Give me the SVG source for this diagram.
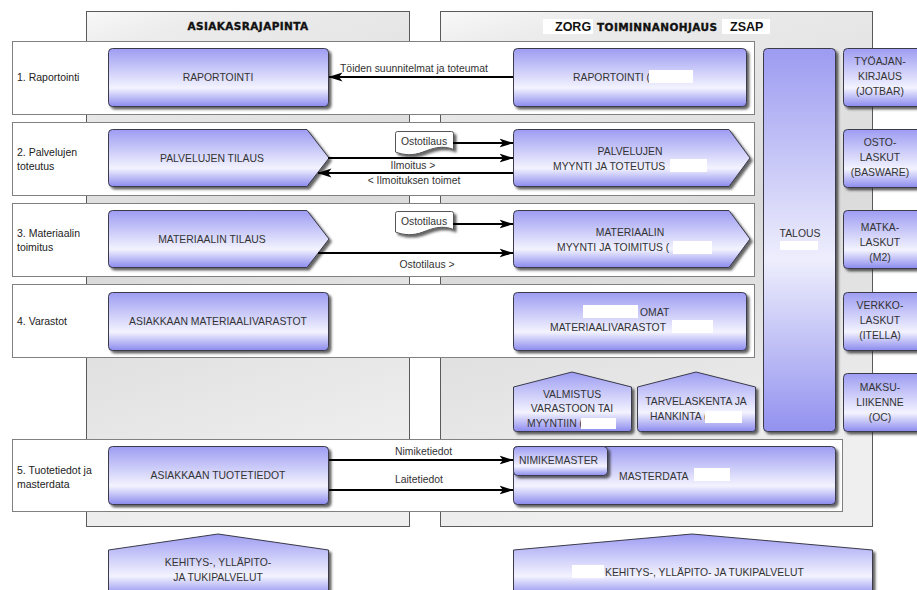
<svg xmlns="http://www.w3.org/2000/svg" width="917" height="590" viewBox="0 0 917 590">
  <defs>
    <linearGradient id="nodeFill" x1="0" y1="0" x2="0" y2="1">
      <stop offset="0" stop-color="#9d9cf2"/>
      <stop offset="0.68" stop-color="#f3f3ff"/>
      <stop offset="1" stop-color="#8b8aee"/>
    </linearGradient>
    <linearGradient id="tallFill" x1="0" y1="0" x2="0" y2="1">
      <stop offset="0" stop-color="#9c9bf1"/>
      <stop offset="0.55" stop-color="#eeeefd"/>
      <stop offset="1" stop-color="#9291ef"/>
    </linearGradient>
    <linearGradient id="colFill" x1="0" y1="0" x2="0.2" y2="1">
      <stop offset="0" stop-color="#f8f8f8"/>
      <stop offset="0.08" stop-color="#ececec"/>
      <stop offset="0.5" stop-color="#dadada"/>
      <stop offset="1" stop-color="#efefef"/>
    </linearGradient>
    <filter id="shadow" x="-5%" y="-5%" width="115%" height="125%">
      <feDropShadow dx="2.5" dy="2.5" stdDeviation="1.2" flood-color="#222" flood-opacity="0.7"/>
    </filter>
    <marker id="arrow" viewBox="0 0 14 10" refX="13.5" refY="5" markerWidth="14" markerHeight="10" markerUnits="userSpaceOnUse" orient="auto">
      <path d="M0,0.5 L14,5 L0,9.5 L3.5,5 Z" fill="#000"/>
    </marker>
  </defs>
  <style>
    .col{fill:url(#colFill);stroke:#5a5a5a;stroke-width:1}
    .band{fill:#fff;stroke:#808080;stroke-width:1}
    .node{fill:url(#nodeFill);stroke:#3a3a4a;stroke-width:1;filter:url(#shadow)}
    .tall{fill:url(#tallFill);stroke:#3a3a4a;stroke-width:1;filter:url(#shadow)}
    .doc{fill:#fff;stroke:#555;stroke-width:1;filter:url(#shadow)}
    .t{font-family:"Liberation Sans",Arial,sans-serif;font-size:10.4px;fill:#333}
    .row{font-family:"Liberation Sans",Arial,sans-serif;font-size:10.5px;fill:#222}
    .c{text-anchor:middle}
    .hdr{font-family:"DejaVu Sans",sans-serif;font-weight:bold;font-size:10.5px;letter-spacing:0.4px;fill:#111;stroke:#111;stroke-width:0.35px}
    .hdr2{font-family:"Liberation Sans",Arial,sans-serif;font-weight:bold;font-size:12.5px;fill:#111}
    .mask{fill:#fff}
    .flow{stroke:#000;stroke-width:2;fill:none}
  </style>

  <!-- column backgrounds -->
  <g id="columns">
    <rect class="col" x="86.5" y="11.5" width="323" height="515"/>
    <rect class="col" x="440.5" y="11.5" width="432" height="515"/>
    <text class="hdr c" x="248" y="30">ASIAKASRAJAPINTA</text>
    <rect class="mask" x="543" y="19" width="50" height="15"/>
    <rect class="mask" x="722" y="19" width="48" height="15"/>
    <text class="hdr2" x="555" y="31">ZORG</text>
    <text class="hdr" x="597" y="31">TOIMINNANOHJAUS</text>
    <text class="hdr2" x="730" y="31">ZSAP</text>
  </g>

  <!-- process rows -->
  <g id="rows">
    <rect class="band" x="12.5" y="41.5" width="742" height="73"/>
    <rect class="band" x="12.5" y="122.5" width="742" height="73"/>
    <rect class="band" x="12.5" y="203.5" width="742" height="73"/>
    <rect class="band" x="12.5" y="284.5" width="742" height="73"/>
    <rect class="band" x="12.5" y="439.5" width="830" height="72"/>
    <text class="row" x="17" y="81">1. Raportointi</text>
    <text class="row" x="17" y="156">2. Palvelujen</text>
    <text class="row" x="17" y="170">toteutus</text>
    <text class="row" x="17" y="237">3. Materiaalin</text>
    <text class="row" x="17" y="251">toimitus</text>
    <text class="row" x="17" y="325">4. Varastot</text>
    <text class="row" x="17" y="474">5. Tuotetiedot ja</text>
    <text class="row" x="17" y="488">masterdata</text>
  </g>

  <!-- 1. reporting -->
  <g id="raportointi-asiakas">
    <rect class="node" x="108.5" y="48.5" width="220" height="58" rx="4"/>
    <text class="t c" x="218" y="81">RAPORTOINTI</text>
  </g>
  <g id="raportointi-oma">
    <rect class="node" x="513.5" y="48.5" width="233" height="58" rx="4"/>
    <text class="t" x="573" y="81">RAPORTOINTI (</text>
    <rect class="mask" x="649" y="70" width="44" height="13"/>
  </g>

  <!-- 2. services -->
  <g id="palvelujen-tilaus">
    <path class="node" d="M112.5,129.5 H307 L329,158 L307,186.5 H112.5 Q108.5,186.5 108.5,182.5 V133.5 Q108.5,129.5 112.5,129.5 Z"/>
    <text class="t c" x="212" y="162">PALVELUJEN TILAUS</text>
  </g>
  <g id="palvelujen-myynti">
    <path class="node" d="M517.5,129.5 H729 L750,158 L729,186.5 H517.5 Q513.5,186.5 513.5,182.5 V133.5 Q513.5,129.5 517.5,129.5 Z"/>
    <text class="t c" x="630" y="155">PALVELUJEN</text>
    <text class="t" x="553" y="170">MYYNTI JA TOTEUTUS</text>
    <rect class="mask" x="670" y="159" width="37" height="13"/>
  </g>
  <g id="ostotilaus-doc-1">
    <path class="doc" d="M397.5,131.5 H451.5 Q453.5,131.5 453.5,133.5 V149.5 C443,145 433,148 423,152 C413,156 403,155 395.5,152 V133.5 Q395.5,131.5 397.5,131.5 Z"/>
    <text class="t c" x="424" y="145">Ostotilaus</text>
  </g>

  <!-- 3. materials -->
  <g id="materiaalin-tilaus">
    <path class="node" d="M112.5,210.5 H307 L329,239 L307,267.5 H112.5 Q108.5,267.5 108.5,263.5 V214.5 Q108.5,210.5 112.5,210.5 Z"/>
    <text class="t c" x="212" y="243">MATERIAALIN TILAUS</text>
  </g>
  <g id="materiaalin-myynti">
    <path class="node" d="M517.5,210.5 H729 L750,239 L729,267.5 H517.5 Q513.5,267.5 513.5,263.5 V214.5 Q513.5,210.5 517.5,210.5 Z"/>
    <text class="t c" x="630" y="236">MATERIAALIN</text>
    <text class="t" x="557" y="251">MYYNTI JA TOIMITUS (</text>
    <rect class="mask" x="673" y="241" width="39" height="13"/>
  </g>
  <g id="ostotilaus-doc-2">
    <path class="doc" d="M397.5,211.5 H451.5 Q453.5,211.5 453.5,213.5 V229.5 C443,225 433,228 423,232 C413,236 403,235 395.5,232 V213.5 Q395.5,211.5 397.5,211.5 Z"/>
    <text class="t c" x="424" y="225">Ostotilaus</text>
  </g>

  <!-- 4. stock -->
  <g id="asiakkaan-varastot">
    <rect class="node" x="108.5" y="292.5" width="220" height="58" rx="4"/>
    <text class="t c" x="218" y="325">ASIAKKAAN MATERIAALIVARASTOT</text>
  </g>
  <g id="omat-varastot">
    <rect class="node" x="513.5" y="292.5" width="233" height="58" rx="4"/>
    <rect class="mask" x="583" y="305" width="55" height="13"/>
    <text class="t" x="640" y="316">OMAT</text>
    <text class="t" x="550" y="331">MATERIAALIVARASTOT</text>
    <rect class="mask" x="672" y="320" width="41" height="13"/>
  </g>
  <g id="valmistus">
    <path class="node" d="M513.5,387 L572,372 L631.5,387 V428.5 Q631.5,431.5 628.5,431.5 H516.5 Q513.5,431.5 513.5,428.5 Z"/>
    <text class="t c" x="572" y="398">VALMISTUS</text>
    <text class="t c" x="572" y="412">VARASTOON TAI</text>
    <text class="t" x="527" y="427">MYYNTIIN (</text>
    <rect class="mask" x="581" y="418" width="35" height="11"/>
  </g>
  <g id="tarvelaskenta">
    <path class="node" d="M637.5,387 L696,372 L755.5,387 V428.5 Q755.5,431.5 752.5,431.5 H640.5 Q637.5,431.5 637.5,428.5 Z"/>
    <text class="t c" x="696" y="405">TARVELASKENTA JA</text>
    <text class="t" x="650" y="420">HANKINTA (</text>
    <rect class="mask" x="705" y="411" width="37" height="12"/>
  </g>

  <!-- finance -->
  <g id="talous">
    <rect class="tall" x="763.5" y="48.5" width="72" height="383" rx="4"/>
    <text class="t c" x="800" y="237">TALOUS</text>
    <rect class="mask" x="780" y="241" width="38" height="9"/>
  </g>
  <g id="tyoajankirjaus">
    <rect class="node" x="843.5" y="48.5" width="80" height="58" rx="4"/>
    <text class="t c" x="880" y="65">TYÖAJAN-</text>
    <text class="t c" x="880" y="80">KIRJAUS</text>
    <text class="t c" x="880" y="95">(JOTBAR)</text>
  </g>
  <g id="ostolaskut">
    <rect class="node" x="843.5" y="129.5" width="80" height="58" rx="4"/>
    <text class="t c" x="880" y="146">OSTO-</text>
    <text class="t c" x="880" y="161">LASKUT</text>
    <text class="t c" x="880" y="176">(BASWARE)</text>
  </g>
  <g id="matkalaskut">
    <rect class="node" x="843.5" y="210.5" width="80" height="58" rx="4"/>
    <text class="t c" x="880" y="231">MATKA-</text>
    <text class="t c" x="880" y="246">LASKUT</text>
    <text class="t c" x="880" y="261">(M2)</text>
  </g>
  <g id="verkkolaskut">
    <rect class="node" x="843.5" y="292.5" width="80" height="58" rx="4"/>
    <text class="t c" x="880" y="309">VERKKO-</text>
    <text class="t c" x="880" y="324">LASKUT</text>
    <text class="t c" x="880" y="339">(ITELLA)</text>
  </g>
  <g id="maksuliikenne">
    <rect class="node" x="843.5" y="373.5" width="80" height="58" rx="4"/>
    <text class="t c" x="880" y="391">MAKSU-</text>
    <text class="t c" x="880" y="406">LIIKENNE</text>
    <text class="t c" x="880" y="421">(OC)</text>
  </g>

  <!-- 5. product data -->
  <g id="asiakkaan-tuotetiedot">
    <rect class="node" x="108.5" y="446.5" width="220" height="58" rx="4"/>
    <text class="t c" x="218" y="479">ASIAKKAAN TUOTETIEDOT</text>
  </g>
  <g id="masterdata">
    <rect class="node" x="513.5" y="446.5" width="322" height="58" rx="4"/>
    <text class="t" x="619" y="480">MASTERDATA</text>
    <rect class="mask" x="694" y="468" width="36" height="13"/>
  </g>
  <g id="nimikemaster">
    <rect class="node" x="513.5" y="446.5" width="94" height="29" rx="4"/>
    <text class="t" x="519" y="464">NIMIKEMASTER</text>
  </g>

  <!-- support services -->
  <g id="kehitys-asiakas">
    <path class="node" d="M108.5,550 L218,534 L328.5,550 V596 H108.5 Z"/>
    <text class="t c" x="218" y="566">KEHITYS-, YLLÄPITO-</text>
    <text class="t c" x="218" y="581">JA TUKIPALVELUT</text>
  </g>
  <g id="kehitys-oma">
    <path class="node" d="M513.5,550 L692,534 L872.5,550 V596 H513.5 Z"/>
    <rect class="mask" x="572" y="565" width="32" height="13"/>
    <text class="t" x="605" y="576">KEHITYS-, YLLÄPITO- JA TUKIPALVELUT</text>
  </g>

  <!-- connectors -->
  <g id="connectors">
    <line class="flow" x1="513" y1="77" x2="329" y2="77" marker-end="url(#arrow)"/>
    <text class="t" x="340" y="72">Töiden suunnitelmat ja toteumat</text>

    <line class="flow" x1="453" y1="143" x2="513" y2="143" marker-end="url(#arrow)"/>
    <line class="flow" x1="328" y1="158" x2="513" y2="158" marker-end="url(#arrow)"/>
    <text class="t c" x="413" y="169">Ilmoitus &gt;</text>
    <line class="flow" x1="513" y1="173" x2="318" y2="173" marker-end="url(#arrow)"/>
    <text class="t c" x="414" y="184">&lt; Ilmoituksen toimet</text>

    <line class="flow" x1="453" y1="224" x2="513" y2="224" marker-end="url(#arrow)"/>
    <line class="flow" x1="318" y1="253" x2="513" y2="253" marker-end="url(#arrow)"/>
    <text class="t c" x="427" y="268">Ostotilaus &gt;</text>

    <line class="flow" x1="329" y1="460" x2="513" y2="460" marker-end="url(#arrow)"/>
    <text class="t" x="395" y="455">Nimiketiedot</text>
    <line class="flow" x1="329" y1="490" x2="513" y2="490" marker-end="url(#arrow)"/>
    <text class="t" x="395" y="483">Laitetiedot</text>
  </g>
</svg>
